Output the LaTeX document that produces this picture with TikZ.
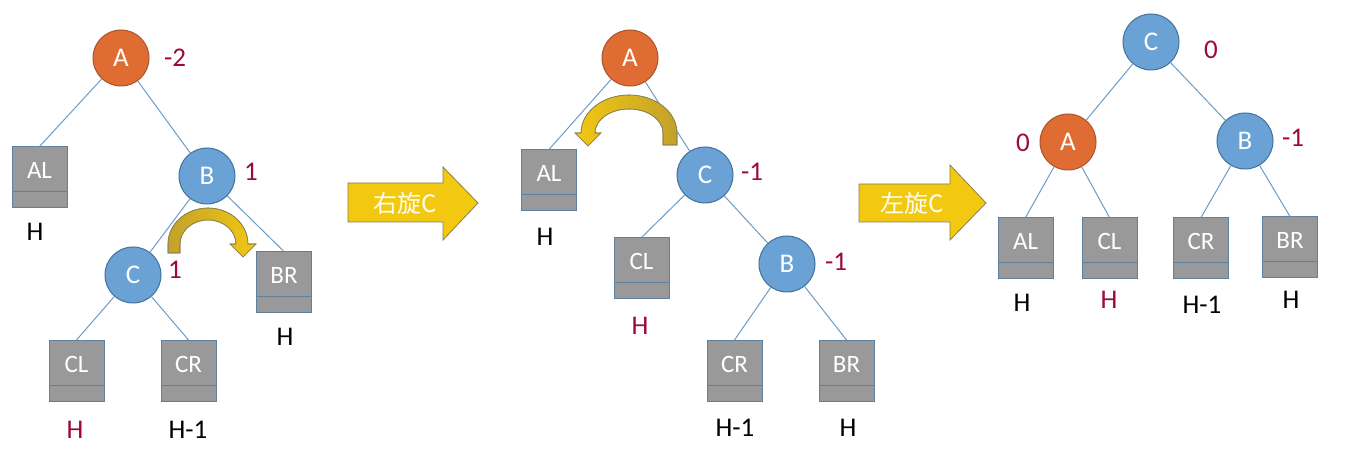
\documentclass[tikz,border=0pt]{standalone}
\usepackage{fontspec}
\setmainfont{Carlito}
\newfontfamily\cjk{Noto Sans CJK SC}
\definecolor{lineblue}{HTML}{6D9CC4}
\definecolor{nodeblue}{HTML}{6AA2D6}
\definecolor{nodeblueb}{HTML}{41719C}
\definecolor{nodeorange}{HTML}{DF6D33}
\definecolor{nodeorangeb}{HTML}{A9552A}
\definecolor{boxgray}{HTML}{999999}
\definecolor{boxborder}{HTML}{5F809E}
\definecolor{labelred}{HTML}{9C0A38}
\definecolor{arrowyellow}{HTML}{F2C811}
\definecolor{arrowdark}{HTML}{C3A12A}
\definecolor{arrowborder}{HTML}{8A8050}
\newcommand\boxtxt[1]{\raisebox{7pt}[\height][\depth]{#1}}
\begin{document}
\begin{tikzpicture}[x=1pt,y=1pt,
  edge/.style={draw=lineblue, line width=1pt},
  circ/.style={circle, minimum size=56pt, inner sep=0pt, line width=1pt, text=white, font=\fontsize{27}{27}\selectfont},
  bluec/.style={circ, fill=nodeblue, draw=nodeblueb},
  orangec/.style={circ, fill=nodeorange, draw=nodeorangeb},
  gbox/.style={rectangle, minimum width=55pt, minimum height=61pt, inner sep=0pt, fill=boxgray, draw=boxborder, line width=1pt, text=white, font=\fontsize{25}{25}\selectfont,
    path picture={\draw[boxborder, line width=1pt] ([yshift=16pt]path picture bounding box.south west) -- ([yshift=16pt]path picture bounding box.south east);}},
  lbl/.style={font=\fontsize{27}{27}\selectfont, text=black, inner sep=0pt},
  rlbl/.style={lbl, text=labelred},
  bigarrow/.style={fill=arrowyellow, draw=arrowborder, line width=0.8pt},
  arrowtext/.style={font=\fontsize{24}{24}\selectfont, text=white!95!yellow, inner sep=0pt},
  curl/.style={draw=arrowborder, line width=0.6pt}
]
\useasboundingbox (0,0) rectangle (1367,474);
\fill[white] (0,0) rectangle (1367,474);

% ---------- Panel 1 ----------
\node[orangec] (A1) at (121,416) {A};
\node[bluec] (B1) at (207,298) {B};
\node[bluec] (C1) at (133,199) {C};
\node[gbox] (AL1) at (39.5,296.5) {\boxtxt{AL}};
\node[gbox] (BR1) at (284,191.5) {\boxtxt{BR}};
\node[gbox] (CL1) at (76.5,103) {\boxtxt{CL}};
\node[gbox] (CR1) at (188.5,103) {\boxtxt{CR}};
\draw[edge] (A1) -- (AL1.north);
\draw[edge] (A1) -- (B1);
\draw[edge] (B1) -- (C1);
\draw[edge] (B1) -- (BR1.north);
\draw[edge] (C1) -- (CL1.north);
\draw[edge] (C1) -- (CR1.north);
\node[rlbl] (bA1) at (175,416) {-2};
\node[rlbl] (bB1) at (251,302) {1};
\node[rlbl] (bC1) at (175,204) {1};
\node[lbl] (hAL1) at (35,242) {H};
\node[lbl] (hBR1) at (285,137) {H};
\node[rlbl] (hCL1) at (75,44) {H};
\node[lbl] (hCR1) at (188,44) {H-1};
\shade[left color=arrowdark, right color=arrowyellow, curl]
  (168,221) -- (168,230) arc[start angle=180,end angle=0,x radius=40,y radius=36]
  -- (256,230) -- (243,217) -- (230,230) -- (236,230)
  arc[start angle=0,end angle=180,x radius=28,y radius=24] -- (180,221) -- cycle;
\draw[curl] (168,221) -- (168,230) arc[start angle=180,end angle=0,x radius=40,y radius=36]
  -- (256,230) -- (243,217) -- (230,230) -- (236,230)
  arc[start angle=0,end angle=180,x radius=28,y radius=24] -- (180,221) -- cycle;

% ---------- Arrow 1 ----------
\draw[bigarrow] (348,291) -- (443,291) -- (443,307) -- (478,271) -- (443,234) -- (443,252) -- (348,252) -- cycle;
\node[arrowtext] (t1) at (405,271) {\cjk 右旋C};

% ---------- Panel 2 ----------
\node[orangec] (A2) at (630,416) {A};
\node[bluec] (C2) at (705,299) {C};
\node[bluec] (B2) at (787,210) {B};
\node[gbox] (AL2) at (549,293.5) {\boxtxt{AL}};
\node[gbox] (CL2) at (641.5,205.5) {\boxtxt{CL}};
\node[gbox] (CR2) at (734.5,103) {\boxtxt{CR}};
\node[gbox] (BR2) at (846.5,103) {\boxtxt{BR}};
\draw[edge] (A2) -- (AL2.north);
\draw[edge] (A2) -- (C2);
\draw[edge] (C2) -- (CL2.north);
\draw[edge] (C2) -- (B2);
\draw[edge] (B2) -- (CR2.north);
\draw[edge] (B2) -- (BR2.north);
\node[rlbl] (bC2) at (752,302) {-1};
\node[rlbl] (bB2) at (836,212) {-1};
\node[lbl] (hAL2) at (545,237) {H};
\node[rlbl] (hCL2) at (640,148) {H};
\node[lbl] (hCR2) at (735,46) {H-1};
\node[lbl] (hBR2) at (848,46) {H};
\shade[left color=arrowyellow, right color=arrowdark, curl]
  (677,329) -- (677,341) arc[start angle=0,end angle=180,x radius=48,y radius=38]
  -- (575,341) -- (588,328) -- (601,341) -- (595,341)
  arc[start angle=180,end angle=0,x radius=34,y radius=24] -- (663,329) -- cycle;
\draw[curl] (677,329) -- (677,341) arc[start angle=0,end angle=180,x radius=48,y radius=38]
  -- (575,341) -- (588,328) -- (601,341) -- (595,341)
  arc[start angle=180,end angle=0,x radius=34,y radius=24] -- (663,329) -- cycle;

% ---------- Arrow 2 ----------
\draw[bigarrow] (859,290) -- (950,290) -- (950,309) -- (986,271) -- (950,234) -- (950,252) -- (859,252) -- cycle;
\node[arrowtext] (t2) at (912,271) {\cjk 左旋C};

% ---------- Panel 3 ----------
\node[bluec] (C3) at (1151,432) {C};
\node[orangec] (A3) at (1068,332) {A};
\node[bluec] (B3) at (1245,333) {B};
\node[gbox] (AL3) at (1025.5,225.5) {\boxtxt{AL}};
\node[gbox] (CL3) at (1109.5,225.5) {\boxtxt{CL}};
\node[gbox] (CR3) at (1201,225.5) {\boxtxt{CR}};
\node[gbox] (BR3) at (1290,226.5) {\boxtxt{BR}};
\draw[edge] (C3) -- (A3);
\draw[edge] (C3) -- (B3);
\draw[edge] (A3) -- (AL3.north);
\draw[edge] (A3) -- (CL3.north);
\draw[edge] (B3) -- (CR3.north);
\draw[edge] (B3) -- (BR3.north);
\node[rlbl] (bC3) at (1211,424) {0};
\node[rlbl] (bA3) at (1023,331) {0};
\node[rlbl] (bB3) at (1293,336) {-1};
\node[lbl] (hAL3) at (1022,171) {H};
\node[rlbl] (hCL3) at (1109,174) {H};
\node[lbl] (hCR3) at (1202,169) {H-1};
\node[lbl] (hBR3) at (1291,174) {H};
\end{tikzpicture}
\end{document}
